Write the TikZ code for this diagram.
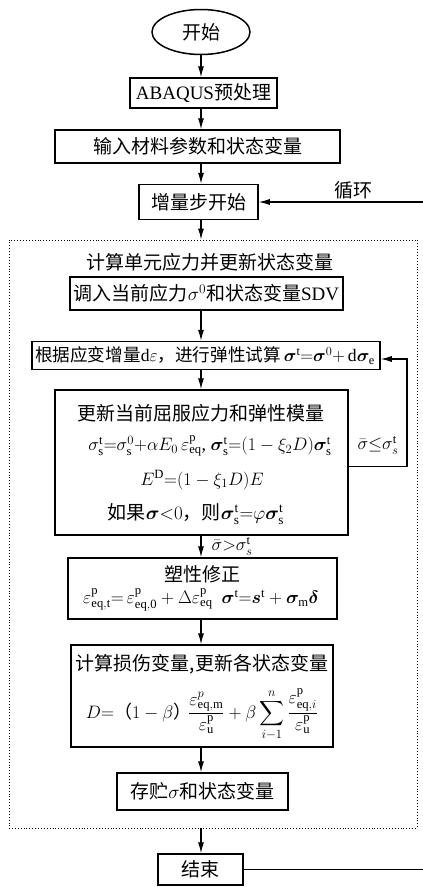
\RequirePackage{fix-cm}
\documentclass[tikz,border=0pt]{standalone}
\usepackage{amsmath,bm}
\usepackage{fontspec}
\setmainfont{Liberation Serif}
\newfontfamily\cjk{Noto Sans CJK SC}
\newcommand\zh[1]{{\cjk #1}}
\newcommand\rmup[1]{\mathrm{#1}}
\usetikzlibrary{shapes.geometric,arrows.meta}
\begin{document}
\begin{tikzpicture}[x=1pt,y=-1pt,
  font=\fontsize{19}{22}\selectfont,
  box/.style={draw,line width=1.5pt,inner sep=0pt},
  lbl/.style={inner sep=0pt},
  mth/.style={inner sep=0pt,font=\fontsize{18}{21}\selectfont},
  arr/.style={-{Latex[length=11pt,width=6pt]},line width=1.1pt}]
\useasboundingbox (0,0) rectangle (423,887);
\coordinate (col) at (201,0);
\coordinate (rt) at (424,0);
\coordinate (fb) at (407,0);

\node[ellipse,draw,line width=1.5pt,minimum width=98,minimum height=45,inner sep=0pt] (start) at (201,32) {\zh{开始}};
\node[box,minimum width=147,minimum height=30] (abaqus) at (203.5,93) {ABAQUS\zh{预处理}};
\node[box,minimum width=285,minimum height=33] (input) at (197.5,146.5) {\zh{输入材料参数和状态变量}};
\node[box,minimum width=119,minimum height=35] (incr) at (198.5,202) {\zh{增量步开始}};
\node[lbl] (loop) at (353,190) {\zh{循环}};

\node[draw,dotted,line width=0.9pt,inner sep=0pt,minimum width=408,minimum height=588] (frame) at (213,534) {};
\node[lbl] (title) at (210,262) {\zh{计算单元应力并更新状态变量}};

\node[box,minimum width=273,minimum height=33] (call) at (206.5,293.5) {\zh{调入当前应力}$\sigma^{0}$\zh{和状态变量}SDV};
\node[box,minimum width=348,minimum height=28] (basis) at (206,355.5) {};
\node[lbl,font=\fontsize{17.6}{21}\selectfont] (basist) at (205,355.5) {\zh{根据应变增量}d$\varepsilon$\zh{，进行弹性试算}\,$\bm\sigma^{\rmup t}{=}\bm\sigma^{0}{+}\,\rmup d\bm\sigma_{\rmup e}$};

\node[box,minimum width=293,minimum height=145] (update) at (201.5,462.5) {};
\node[lbl] (u1) at (201,413) {\zh{更新当前屈服应力和弹性模量}};
\node[mth] (u2) at (210,446) {$\sigma^{\rmup t}_{\rmup s}{=}\sigma^{0}_{\rmup s}{+}\alpha E_0\,\varepsilon^{\rmup p}_{\rmup{eq}}$, $\bm\sigma^{\rmup t}_{\rmup s}{=}(1-\xi_2 D)\bm\sigma^{\rmup t}_{\rmup s}$};
\node[mth] (u3) at (202,480) {$E^{\rmup D}{=}(1-\xi_1 D)E$};
\node[lbl] (u4) at (196,514) {\zh{如果}$\bm\sigma{<}0$\zh{，则}$\bm\sigma^{\rmup t}_{\rmup s}{=}\varphi\bm\sigma^{\rmup t}_{\rmup s}$};
\node[mth] (le) at (378,445) {$\bar\sigma{\leq}\sigma^{\rmup t}_{s}$};

\node[box,minimum width=269,minimum height=61] (plast) at (202.5,588.5) {};
\node[lbl] (p1) at (202,574) {\zh{塑性修正}};
\node[mth] (p2) at (201,600) {$\varepsilon^{\rmup p}_{\rmup{eq,t}}{=}\,\varepsilon^{\rmup p}_{\rmup{eq,0}}+\Delta\varepsilon^{\rmup p}_{\rmup{eq}}\ \ \bm\sigma^{\rmup t}{=}\bm s^{\rmup t}+\bm\sigma_{\rmup m}\bm\delta$};
\node[mth] (gt) at (232,546) {$\bar\sigma{>}\sigma^{\rmup t}_{s}$};

\node[box,minimum width=262,minimum height=102] (damage) at (202,696) {};
\node[lbl] (d1) at (202,664) {\zh{计算损伤变量,更新各状态变量}};
\node[mth] (d2) at (202,715) {$\displaystyle D{=}\mbox{\zh{（}}1-\beta\mbox{\zh{）}}\!\frac{\varepsilon^{p}_{\rmup{eq,m}}}{\varepsilon^{\rmup p}_{\rmup u}}+\beta\sum_{i-1}^{n}\frac{\varepsilon^{\rmup p}_{\rmup{eq},i}}{\varepsilon^{\rmup p}_{\rmup u}}$};

\node[box,minimum width=171,minimum height=37] (store) at (202.5,791.5) {\zh{存贮}$\sigma$\zh{和状态变量}};
\node[box,minimum width=85,minimum height=31] (end) at (200.5,869.5) {\zh{结束}};

\draw[arr] (start.south -| col) -- (abaqus.north -| col);
\draw[arr] (abaqus.south -| col) -- (input.north -| col);
\draw[arr] (input.south -| col) -- (incr.north -| col);
\draw[arr] (incr.south -| col) -- (frame.north -| col);
\draw[arr] (call.south -| col) -- (basis.north -| col);
\draw[arr] (basis.south -| col) -- (update.north -| col);
\draw[arr] (update.south -| col) -- (plast.north -| col);
\draw[arr] (plast.south -| col) -- (damage.north -| col);
\draw[arr] (damage.south -| col) -- (store.north -| col);
\draw[arr] (frame.south -| col) -- (end.north -| col);
\draw[arr] ([yshift=-4pt]update.east) -| ([yshift=-3.5pt]fb |- basis.east) -- ([yshift=-3.5pt]basis.east);
\draw[arr] (end.east) -- (end.east -| rt) |- (incr.east);
\end{tikzpicture}
\end{document}
